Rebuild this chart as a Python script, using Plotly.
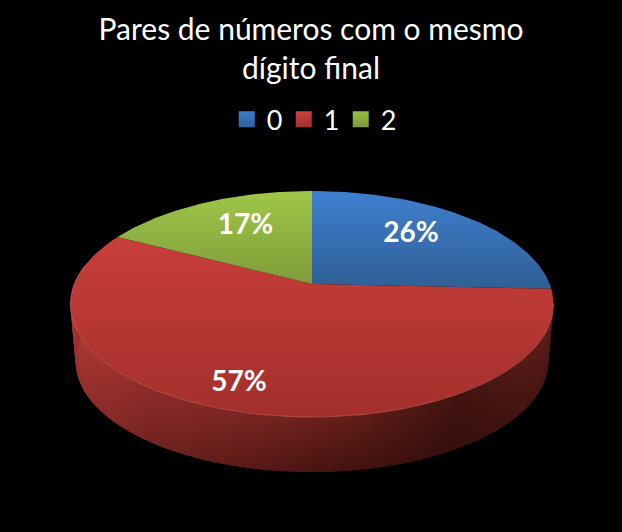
import numpy as np
import plotly.graph_objects as go

title_text = "Pares de números com o mesmo<br>dígito final"
categories = ["0", "1", "2"]
values = [25.7, 57.0, 17.3]
colors_top = ["#3f7fcf", "#c83e3b", "#9fc648"]
colors_bottom = ["#2f5f96", "#a32f2c", "#7f9c3a"]
legend_colors = ["#3d7cc9", "#c9413e", "#98bd48"]
legend_dark = ["#2f62a0", "#a03230", "#7c9a38"]

# pie geometry in page pixels, with a little perspective on the disc
cx, cy = 312, 284
rx, ry = 237.7, 109.5
persp = 0.177
base_scale, wall_h = 0.979, 57.8
label_r = [0.69, 0.81, 0.68]
label_shift = [-5, 4, 4]
label_dy = 3

# wall shading from left to right, at its top and bottom edge
shade_at = [0, 0.15, 0.5, 0.8, 1]
shade_upper = [(178, 58, 54), (145, 45, 42), (110, 33, 30), (66, 20, 16), (95, 30, 25)]
shade_lower = [(150, 48, 44), (115, 35, 32), (72, 20, 17), (52, 15, 12), (70, 22, 18)]


def project(theta, r=1.0):
    # theta in degrees clockwise from 12 o'clock
    t = np.radians(theta)
    u, v = r * np.sin(t), r * np.cos(t)
    k = 1 + persp * v
    return rx * u / k, -ry * v / k


def top_xy(theta, r=1.0):
    dx, dy = project(theta, r)
    return cx + dx, cy + dy


def base_xy(theta):
    dx, dy = project(theta)
    return cx + base_scale * dx, cy + base_scale * dy + wall_h


def shade(stops, f):
    rgb = [np.interp(f, shade_at, [s[i] for s in stops]) for i in range(3)]
    return "rgb(%d,%d,%d)" % tuple(rgb)


fig = go.Figure()

# side wall, cut in strips
wall_angles = np.linspace(100, 280, 91)
for i in range(len(wall_angles) - 1):
    a = np.linspace(wall_angles[i], min(wall_angles[i + 1] + 1.5, 280), 4)
    tx, ty = top_xy(a)
    bx, by = base_xy(a)
    f = (np.mean(bx) - 75) / 473
    upper = shade(shade_upper, f)
    lower = shade(shade_lower, f)
    fig.add_trace(go.Scatter(
        x=np.concatenate([tx, bx[::-1]]), y=np.concatenate([ty, by[::-1]]),
        mode="lines", line_width=0, fill="toself", fillcolor=upper,
        fillgradient=dict(type="vertical", start=ty.min(), stop=by.max(),
                          colorscale=[[0, upper], [1, lower]]),
        showlegend=False, hoverinfo="skip"))

# top of the pie
shares = np.array(values) / sum(values) * 360
edges = np.concatenate([[0], np.cumsum(shares)])
for i, name in enumerate(categories):
    a = np.linspace(edges[i], edges[i + 1], 120)
    px, py = top_xy(a)
    fig.add_trace(go.Scatter(
        x=np.concatenate([[cx], px, [cx]]), y=np.concatenate([[cy], py, [cy]]),
        mode="lines", line_width=0, fill="toself", fillcolor=colors_top[i],
        fillgradient=dict(type="vertical", start=min(py.min(), cy), stop=max(py.max(), cy),
                          colorscale=[[0, colors_top[i]], [1, colors_bottom[i]]]),
        showlegend=False, hoverinfo="skip"))

# thin light rim on the front edge
a = np.linspace(100, 280, 120)
px, py = top_xy(a)
fig.add_trace(go.Scatter(x=px, y=py, mode="lines",
                         line=dict(color="rgba(225,120,110,0.45)", width=1),
                         showlegend=False, hoverinfo="skip"))

# percentage labels
mids = (edges[:-1] + edges[1:]) / 2
lx, ly = [], []
for i in range(len(values)):
    x, y = top_xy(mids[i] + label_shift[i], label_r[i])
    lx.append(x)
    ly.append(y + label_dy)
fig.add_trace(go.Scatter(
    x=lx, y=ly, mode="text", text=["%d%%" % round(v) for v in values],
    textfont=dict(family="Lato", size=28, color="white", weight="bold"),
    showlegend=False, hoverinfo="skip"))

# legend entries
for i, name in enumerate(categories):
    fig.add_trace(go.Scatter(
        x=[None], y=[None], mode="markers", name=name,
        marker=dict(symbol="square", size=17, color=legend_colors[i],
                    gradient=dict(type="vertical", color=legend_dark[i]))))

fig.update_layout(
    width=622, height=532,
    margin=dict(l=0, r=0, t=0, b=0),
    paper_bgcolor="black", plot_bgcolor="black",
    font=dict(family="Lato", color="white"),
    title=dict(text=title_text, x=0.5, xanchor="center", y=0.925, yanchor="top",
               font=dict(family="Lato", size=30, color="white")),
    legend=dict(orientation="h", x=0.502, xanchor="center", y=0.775, yanchor="middle",
                font=dict(size=27, color="white"), bgcolor="rgba(0,0,0,0)",
                entrywidth=12, entrywidthmode="pixels"),
)
fig.update_xaxes(range=[0, 622], visible=False, fixedrange=True)
fig.update_yaxes(range=[532, 0], visible=False, fixedrange=True)

# the page keeps the browser's default body margin otherwise
fig.write_html("out.html", config={"displayModeBar": False},
               post_script="document.body.style.margin='0';document.body.style.background='black';")
